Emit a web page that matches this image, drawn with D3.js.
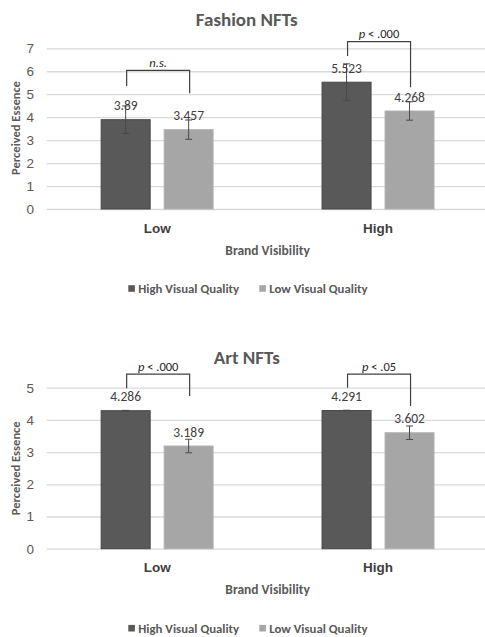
<!DOCTYPE html>
<html><head><meta charset="utf-8">
<script src="https://cdn.jsdelivr.net/npm/d3@7/dist/d3.min.js"></script>
<style>
body{margin:0;background:#fff;}
svg{display:block;font-family:Carlito, Calibri, Lato, "Open Sans", sans-serif;}
</style></head><body>
<svg id="c" width="485" height="637"></svg>
<script>
// ---- data ----
const categories = ["Low", "High"];
const seriesNames = ["High Visual Quality", "Low Visual Quality"];

const fashionHighVQ = [3.89, 5.523];
const fashionLowVQ = [3.457, 4.268];
const fashionHighVQErr = [0.6, 0.8];
const fashionLowVQErr = [0.42, 0.4];
const fashionHighVQLabels = ["3.89", "5.523"];
const fashionLowVQLabels = ["3.457", "4.268"];
const fashionTicks = [0, 1, 2, 3, 4, 5, 6, 7];
const fashionSig = [
  {category: "Low", text: "n.s.", italicOnly: true, leftEnd: 5.36, top: 6.04, rightEnd: 5.04},
  {category: "High", text: "p < .000", italicOnly: false, leftEnd: 6.66, top: 7.29, rightEnd: 5.3}
];

const artHighVQ = [4.286, 4.291];
const artLowVQ = [3.189, 3.602];
const artHighVQErr = [0.01, 0.01];
const artLowVQErr = [0.21, 0.21];
const artHighVQLabels = ["4.286", "4.291"];
const artLowVQLabels = ["3.189", "3.602"];
const artTicks = [0, 1, 2, 3, 4, 5];
const artSig = [
  {category: "Low", text: "p < .000", italicOnly: false, leftEnd: 4.98, top: 5.42, rightEnd: 4.74},
  {category: "High", text: "p < .05", italicOnly: false, leftEnd: 5.0, top: 5.42, rightEnd: 4.43}
];

const colors = ["#595959", "#a6a6a6"];
const strokes = ["#474747", "#b3b3b3"];

const svg = d3.select("#c");

function drawChart(opt) {
  const g = svg.append("g");
  const left = 46.7, right = 488.5;
  const y = d3.scaleLinear().domain([0, d3.max(opt.ticks)]).range([opt.y0, opt.yTop]);
  const x0 = d3.scaleBand().domain(categories).range([left, right]).paddingInner(0.493).paddingOuter(0.2465);
  const x1 = d3.scaleBand().domain(seriesNames).range([0, x0.bandwidth()]).paddingInner(0.222);

  // title
  g.append("text").attr("x", 246.7).attr("y", opt.titleY).attr("dy", "0.35em")
    .attr("text-anchor", "middle").attr("font-size", 19).attr("font-weight", "bold")
    .attr("fill", "#595959").text(opt.title);

  // y axis with grid
  const ya = g.append("g").attr("transform", `translate(${left},0)`)
    .call(d3.axisLeft(y).tickValues(opt.ticks).tickFormat(d3.format("d"))
      .tickSizeInner(-(485 - left)).tickSizeOuter(0).tickPadding(12.7));
  ya.select(".domain").remove();
  ya.selectAll(".tick line").attr("stroke", "#d9d9d9").attr("stroke-width", 1.3);
  ya.selectAll(".tick text").attr("font-size", 13.5).attr("fill", "#595959").attr("font-family", null);

  // y title
  g.append("text").attr("transform", `translate(15.7,${opt.yTitleY}) rotate(-90)`)
    .attr("dy", "0.35em").attr("text-anchor", "middle").attr("font-size", 12.5)
    .attr("font-weight", "bold").attr("fill", "#595959").text("Perceived Essence");

  // bars
  const rows = categories.map((c, i) => ({
    c,
    vals: [
      {s: seriesNames[0], v: opt.hv[i], e: opt.hvErr[i], l: opt.hvLab[i], k: 0},
      {s: seriesNames[1], v: opt.lv[i], e: opt.lvErr[i], l: opt.lvLab[i], k: 1}
    ]
  }));
  const grp = g.selectAll(".grp").data(rows).join("g")
    .attr("transform", d => `translate(${x0(d.c)},0)`);
  grp.selectAll("rect").data(d => d.vals).join("rect")
    .attr("x", d => x1(d.s)).attr("width", x1.bandwidth())
    .attr("y", d => y(d.v)).attr("height", d => y(0) - y(d.v))
    .attr("fill", d => colors[d.k]).attr("stroke", d => strokes[d.k]).attr("stroke-width", 1);
  // data labels
  grp.selectAll("text.lab").data(d => d.vals).join("text").attr("class", "lab")
    .attr("x", d => x1(d.s) + x1.bandwidth() / 2).attr("y", d => y(d.v) - 14).attr("dy", "0.35em")
    .attr("text-anchor", "middle").attr("font-size", 13.5).attr("fill", "#404040").text(d => d.l);
  // error bars
  const eb = grp.selectAll("g.eb").data(d => d.vals).join("g").attr("class", "eb")
    .attr("stroke", "#4a4a4a").attr("stroke-width", 1);
  eb.append("line").attr("x1", d => x1(d.s) + x1.bandwidth() / 2).attr("x2", d => x1(d.s) + x1.bandwidth() / 2)
    .attr("y1", d => y(d.v + d.e)).attr("y2", d => y(d.v - d.e));
  [1, -1].forEach(sg => {
    eb.append("line").attr("x1", d => x1(d.s) + x1.bandwidth() / 2 - 3.5).attr("x2", d => x1(d.s) + x1.bandwidth() / 2 + 3.5)
      .attr("y1", d => y(d.v + sg * d.e)).attr("y2", d => y(d.v + sg * d.e));
  });

  // significance brackets
  opt.sig.forEach(b => {
    const xl = x0(b.category) + x1(seriesNames[0]) + x1.bandwidth() / 2 + 1;
    const xr = x0(b.category) + x1(seriesNames[1]) + x1.bandwidth() / 2 + 1;
    g.append("path").attr("fill", "none").attr("stroke", "#404040").attr("stroke-width", 1.2)
      .attr("d", `M${xl},${y(b.leftEnd)}V${y(b.top)}H${xr}V${y(b.rightEnd)}`);
    const t = g.append("text").attr("x", (xl + xr) / 2).attr("y", y(b.top) - 8).attr("dy", "0.35em")
      .attr("text-anchor", "middle").attr("font-size", 12.5).attr("fill", "#262626");
    if (b.italicOnly) {
      t.attr("font-style", "italic").text(b.text);
    } else {
      const parts = b.text.split(" ");
      t.append("tspan").attr("font-style", "italic").text(parts[0]);
      t.append("tspan").text(" " + parts.slice(1).join(" "));
    }
  });

  // x axis labels
  const xa = g.append("g").attr("transform", `translate(0,${opt.y0})`)
    .call(d3.axisBottom(x0).tickSize(0));
  xa.select(".domain").remove();
  xa.selectAll(".tick text").attr("y", 19).attr("dy", "0.35em").attr("font-size", 13.5)
    .attr("font-weight", "bold").attr("fill", "#404040").attr("font-family", null);

  g.append("text").attr("x", (left + right) / 2).attr("y", opt.y0 + 41).attr("dy", "0.35em")
    .attr("text-anchor", "middle").attr("font-size", 13.5).attr("font-weight", "bold")
    .attr("fill", "#595959").text("Brand Visibility");

  // legend
  const ly = opt.y0 + 79.5;
  const legendX = [128.3, 259.3];
  seriesNames.forEach((s, i) => {
    g.append("rect").attr("x", legendX[i]).attr("y", ly - 3.3).attr("width", 6.6).attr("height", 6.6)
      .attr("fill", colors[i]);
    g.append("text").attr("x", legendX[i] + 10).attr("y", ly).attr("dy", "0.35em")
      .attr("font-size", 12.8).attr("font-weight", "bold").attr("fill", "#595959").text(s);
  });
}

drawChart({title: "Fashion NFTs", titleY: 19, y0: 209, yTop: 48.3, ticks: fashionTicks,
  yTitleY: 128, hv: fashionHighVQ, lv: fashionLowVQ, hvErr: fashionHighVQErr, lvErr: fashionLowVQErr,
  hvLab: fashionHighVQLabels, lvLab: fashionLowVQLabels, sig: fashionSig});
drawChart({title: "Art NFTs", titleY: 357.7, y0: 548.7, yTop: 387.7, ticks: artTicks,
  yTitleY: 468.3, hv: artHighVQ, lv: artLowVQ, hvErr: artHighVQErr, lvErr: artLowVQErr,
  hvLab: artHighVQLabels, lvLab: artLowVQLabels, sig: artSig});
</script>
</body></html>
